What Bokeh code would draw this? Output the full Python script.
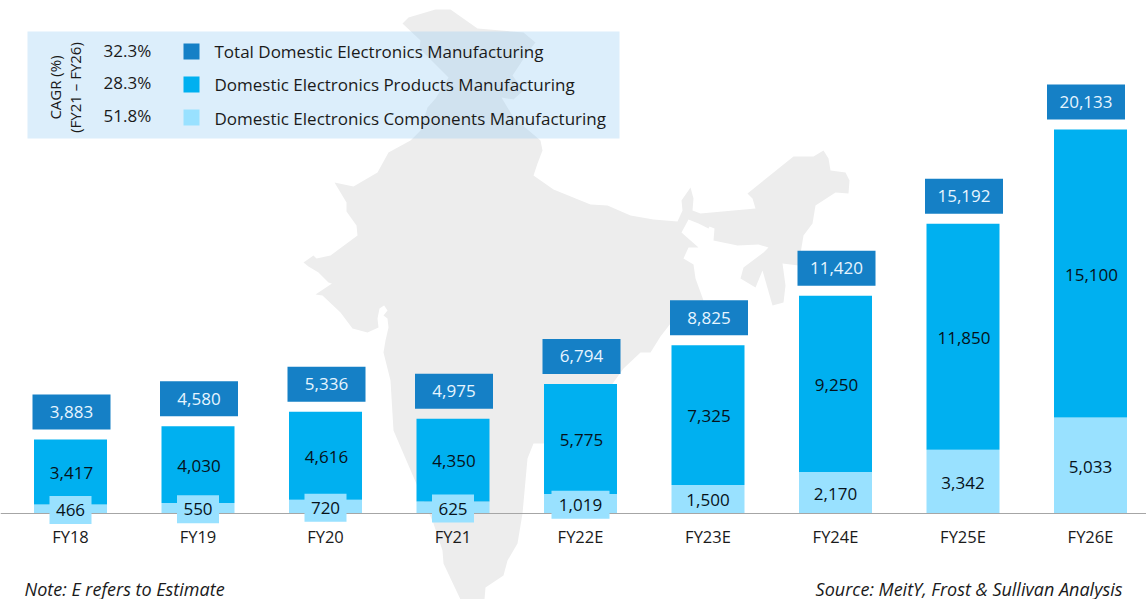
from bokeh.plotting import figure
from bokeh.embed import file_html
from bokeh.resources import INLINE
from bokeh.core.properties import value
from bokeh.models import Range1d, FixedTicker, ColumnDataSource

# ---------- data ----------
years = ["FY18", "FY19", "FY20", "FY21", "FY22E", "FY23E", "FY24E", "FY25E", "FY26E"]
total = [3883, 4580, 5336, 4975, 6794, 8825, 11420, 15192, 20133]
products = [3417, 4030, 4616, 4350, 5775, 7325, 9250, 11850, 15100]
components = [466, 550, 720, 625, 1019, 1500, 2170, 3342, 5033]

legend_labels = ["Total Domestic Electronics Manufacturing",
                 "Domestic Electronics Products Manufacturing",
                 "Domestic Electronics Components  Manufacturing"]
cagr_labels = ["32.3%", "28.3%", "51.8%"]
cagr_title = ["CAGR (%)", "(FY21 – FY26)"]
note_text = "Note: E refers to Estimate"
source_text = "Source: MeitY, Frost & Sullivan Analysis"

COL_TOTAL = "#1580C6"
COL_PROD = "#00B0F0"
COL_COMP = "#99E1FF"
COL_MAP = "#EDEDED"
COL_TEXT = "#1A1A1A"
FONT = value("Open Sans")

# backdrop map outline, in page pixels
map_x = [402,408,435,450,477,523,535,527,520,512,523,513,501,513,540,542,537,533,553,590,607,630,653,677,
         682,681,690,693,692,700,755,752,747,793,813,823,828,830,845,849,848,835,815,812,803,798,782,785,
         783,772,762,755,740,743,763,768,758,737,713,714,709,708,698,688,681,698,688,683,693,695,703,670,
         660,650,640,623,600,543,533,527,522,517,507,503,485,484,460,443,442,433,393,390,383,385,388,387,
         383,387,383,388,379,377,378,367,352,340,322,315,333,344,328,318,308,303,313,316,330,357,356,346,
         346,334,353,377,388,410,420,427,435,448,419,420,413]
map_y = [23,17,9,9,28,32,42,52,63,75,90,99,97,117,140,150,163,175,189,204,205,215,219,221,
         210,200,187,198,210,213,208,198,193,156,156,150,158,170,172,180,193,192,205,223,235,265,263,285,
         302,305,270,287,278,267,252,247,244,245,240,228,226,228,223,219,232,247,247,258,264,278,300,323,
         336,352,352,368,400,443,443,458,513,543,560,575,587,599,599,563,550,523,430,380,352,340,327,318,
         315,310,304,302,308,318,327,332,328,312,295,294,282,287,282,272,266,262,255,258,255,235,225,
         211,202,182,186,172,152,140,130,107,98,77,48,40]

# ---------- geometry ----------
W, H = 1146, 599
PAD = 0
BASE_PX = 513
PX_PER_UNIT = 0.01907
STEP = 127.5
X0 = 70
BAR_W = 73 / STEP

def y_units(px):
    return px / PX_PER_UNIT

p = figure(width=W, height=H, output_backend="svg", toolbar_location=None,
           x_range=Range1d((PAD - X0) / STEP, (PAD + W - X0) / STEP),
           y_range=Range1d(y_units(BASE_PX - (PAD + H)), y_units(BASE_PX - PAD)),
           min_border=0, outline_line_color=None, background_fill_color="white")
p.xgrid.visible = False
p.ygrid.visible = False
p.yaxis.visible = False

# page pixel coordinates for decorations
p.extra_x_ranges = {"px": Range1d(PAD, PAD + W)}
p.extra_y_ranges = {"px": Range1d(PAD + H, PAD)}
PX = dict(x_range_name="px", y_range_name="px")

p.patch(map_x, map_y, fill_color=COL_MAP, line_color=None, **PX)

# legend panel
p.quad(left=[27], right=[619], top=[31], bottom=[138], fill_color="#A1D1F4", fill_alpha=0.37,
       line_color=None, **PX)

# bars
idx = list(range(len(years)))
src = ColumnDataSource(dict(
    x=idx, years=years,
    comp=components,
    prod_top=[c + v for c, v in zip(components, products)],
    prod_mid=[c + v / 2 - y_units(1) for c, v in zip(components, products)],
    comp_mid=[c / 2 - y_units(1) for c in components],
    total=total,
    total_mid=[t + y_units(27.5) for t in total],
    total_lbl=[f"{t:,}" for t in total],
    prod_lbl=[f"{v:,}" for v in products],
    comp_lbl=[f"{v:,}" for v in components],
    zero=[0] * len(years),
))
p.vbar(x="x", bottom="zero", top="comp", width=BAR_W, fill_color=COL_COMP, line_color=None, source=src)
p.vbar(x="x", bottom="comp", top="prod_top", width=BAR_W, fill_color=COL_PROD, line_color=None, source=src)

# value boxes above the bars (the last one sits a little left of its bar)
box_x = [i + (-4.5 / STEP if i == len(years) - 1 else 1 / STEP) for i in idx]
p.rect(x=box_x, y=src.data["total_mid"], width=[78] * len(idx), height=[35] * len(idx),
       width_units="screen", height_units="screen", fill_color=COL_TOTAL, line_color=None)
p.text(x=box_x, y=src.data["total_mid"], text=src.data["total_lbl"], text_color="#E6F5FF",
       text_font=FONT, text_font_size="17px", text_align="center", text_baseline="middle")

p.text(x="x", y="prod_mid", text="prod_lbl", text_color="#06121A", text_font=FONT,
       text_font_size="17px", text_align="center", text_baseline="middle", x_offset=1, source=src)

# component labels: boxed where the segment is too short for the text
boxed = [i for i in idx if components[i] < 1100]
p.rect(x=boxed, y=[src.data["comp_mid"][i] for i in boxed],
       width=[42 if components[i] < 1000 else 58 for i in boxed], height=[28] * len(boxed),
       width_units="screen", height_units="screen", fill_color=COL_COMP, line_color=None,
       level="annotation")
p.text(x="x", y="comp_mid", text="comp_lbl", text_color="#06121A", text_font=FONT,
       text_font_size="17px", text_align="center", text_baseline="middle", source=src,
       level="annotation")

# axis
p.xaxis.fixed_location = 0
p.xaxis.ticker = FixedTicker(ticks=idx)
p.xaxis.major_label_overrides = {i: y for i, y in enumerate(years)}
p.xaxis.major_tick_line_color = None
p.xaxis.minor_tick_line_color = None
p.xaxis.axis_line_color = "#A6A6A6"
p.xaxis.axis_line_width = 1
p.xaxis.major_label_standoff = 5
p.xaxis.major_label_text_font = "Open Sans"
p.xaxis.major_label_text_font_size = "16.5px"
p.xaxis.major_label_text_color = COL_TEXT

# legend contents
swatch_y = [51, 84, 117]
lbl_y = [51, 84, 118]
cagr_y = [50, 82, 115]
swatch_cols = [COL_TOTAL, COL_PROD, COL_COMP]
p.rect(x=[191] * 3, y=swatch_y, width=[16] * 3, height=[16] * 3, width_units="screen", height_units="screen",
       fill_color=swatch_cols, line_color=None, **PX)
p.text(x=[214] * 3, y=lbl_y, text=legend_labels, text_font=FONT, text_font_size="17px", text_color=COL_TEXT,
       text_baseline="middle", **PX)
p.text(x=[103] * 3, y=cagr_y, text=cagr_labels, text_font=FONT, text_font_size="17px", text_color=COL_TEXT,
       text_baseline="middle", **PX)
p.text(x=[54, 74], y=[87, 87], text=cagr_title, angle=90, angle_units="deg", text_font=FONT,
       text_font_size="15px", text_color=COL_TEXT, text_align="center", text_baseline="middle", **PX)

# footers
p.text(x=[24], y=[588], text=[note_text], text_font=FONT, text_font_style="italic", text_font_size="18px",
       text_color=COL_TEXT, text_baseline="middle", **PX)
p.text(x=[1122], y=[588], text=[source_text], text_font=FONT, text_font_style="italic", text_font_size="18px",
       text_color=COL_TEXT, text_align="right", text_baseline="middle", **PX)

open("out.html", "w").write(file_html(p, INLINE))
